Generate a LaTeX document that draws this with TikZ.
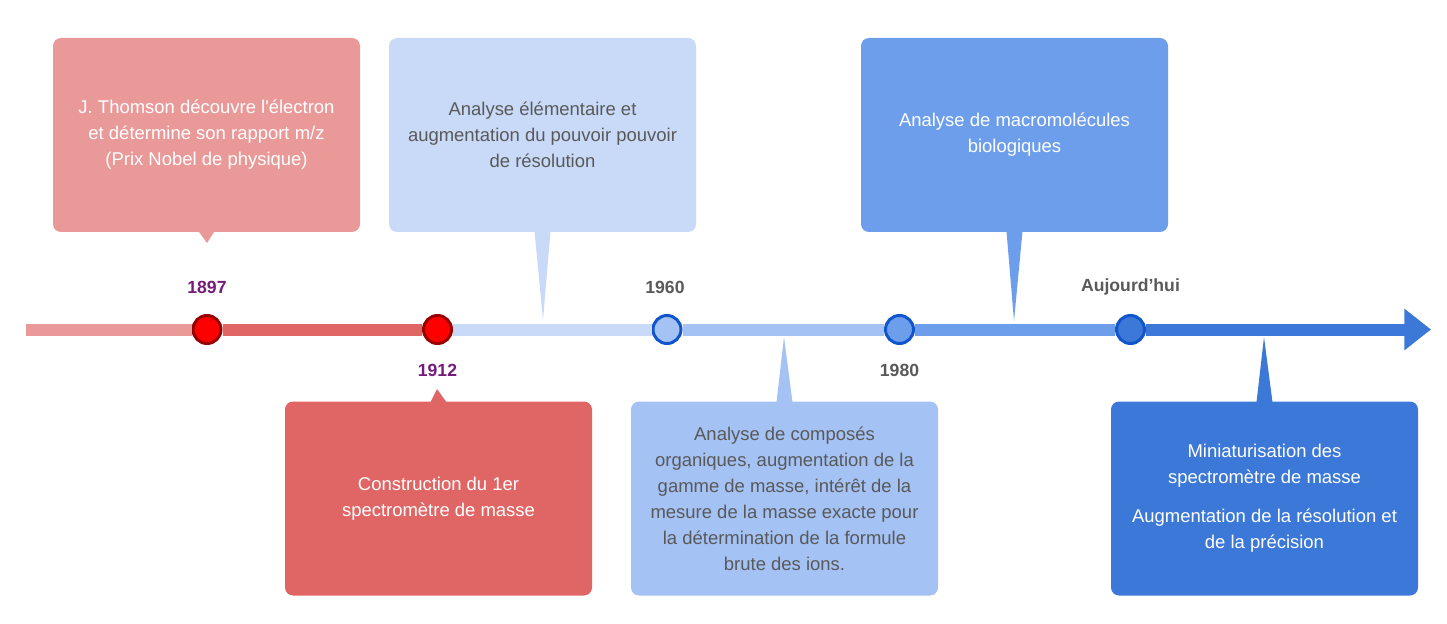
\documentclass[tikz,border=0pt]{standalone}
\usepackage{fontspec}
\setmainfont{Liberation Sans}[Ligatures=TeXOff]
\usetikzlibrary{arrows.meta,calc}
\definecolor{pinkA}{HTML}{EA9999}
\definecolor{redA}{HTML}{E06666}
\definecolor{blueA}{HTML}{C9DAF8}
\definecolor{blueB}{HTML}{A4C2F4}
\definecolor{blueC}{HTML}{6D9EEB}
\definecolor{blueD}{HTML}{3C78D8}
\definecolor{ringred}{HTML}{990000}
\definecolor{ringblue}{HTML}{1155CC}
\definecolor{txtgray}{HTML}{595959}
\definecolor{yearpurple}{HTML}{741B7C}
\tikzset{
    event/.style={rectangle, rounded corners=6pt, minimum width=230.25pt, minimum height=145.5pt, align=center, font=\fontsize{13.85}{19.5}\selectfont, inner sep=0pt},
    seg/.style={line width=9pt},
    dot/.style={circle, draw, line width=2.25pt, minimum size=21pt, inner sep=0pt},
    year/.style={font=\fontsize{13.2}{15}\selectfont\bfseries},
}

\begin{document}
\begin{tikzpicture}[x=0.75pt, y=-0.75pt]
    \useasboundingbox (0,0) rectangle (1447,624);

    % events above the axis
    \node[event, fill=pinkA, text=white] (b1) at (206.5,135) {J. Thomson découvre l'électron\\et détermine son rapport m/z\\(Prix Nobel de physique)};
    \node[event, fill=blueA, text=txtgray] (b3) at (542.5,135) {Analyse élémentaire et\\augmentation du pouvoir pouvoir\\de résolution};
    \node[event, fill=blueC, text=white] (b5) at (1014.5,135) {Analyse de macromolécules\\biologiques};
    % events below the axis
    \node[event, fill=redA, text=white] (b2) at (438.5,498.5) {Construction du 1er\\spectromètre de masse};
    \node[event, fill=blueB, text=txtgray] (b4) at (784.5,498.5) {Analyse de composés\\organiques, augmentation de la\\gamme de masse, intérêt de la\\mesure de la masse exacte pour\\la détermination de la formule\\brute des ions.};
    \node[event, fill=blueD, text=white] (b6) at (1264.5,498.5) {Miniaturisation des\\spectromètre de masse\\[9.75pt]Augmentation de la résolution et\\de la précision};

    % tails
    \coordinate (t1) at (207,243);
    \coordinate (t2) at (437,389);
    \coordinate (t3) at (543,320);
    \coordinate (t4) at (784,337);
    \coordinate (t5) at (1014,321);
    \coordinate (t6) at (1264,337);
    \fill[pinkA] ($(b1.south)+(-8,-1)$) -- (t1) -- ($(b1.south)+(8,-1)$) -- cycle;
    \fill[blueA] ($(b3.south)+(-8,-1)$) -- (t3) -- ($(b3.south)+(8,-1)$) -- cycle;
    \fill[blueC] ($(b5.south)+(-8,-1)$) -- (t5) -- ($(b5.south)+(8,-1)$) -- cycle;
    \fill[redA] ($(b2.north)+(-8,1)$) -- (t2) -- ($(b2.north)+(8,1)$) -- cycle;
    \fill[blueB] ($(b4.north)+(-8,1)$) -- (t4) -- ($(b4.north)+(8,1)$) -- cycle;
    \fill[blueD] ($(b6.north)+(-8,1)$) -- (t6) -- ($(b6.north)+(8,1)$) -- cycle;

    % axis
    \coordinate (start) at (26,329.5);
    \coordinate (end) at (1431,329.5);
    \node[dot, draw=ringred, fill=red] (d1) at (207,329.5) {};
    \node[dot, draw=ringred, fill=red] (d2) at (437.5,329.5) {};
    \node[dot, draw=ringblue, fill=blueB] (d3) at (667,329.5) {};
    \node[dot, draw=ringblue, fill=blueC] (d4) at (899.5,329.5) {};
    \node[dot, draw=ringblue, fill=blueD] (d5) at (1130.5,329.5) {};
    \draw[seg, pinkA] (start) -- (d1);
    \draw[seg, redA] (d1) -- (d2);
    \draw[seg, blueA] (d2) -- (d3);
    \draw[seg, blueB] (d3) -- (d4);
    \draw[seg, blueC] (d4) -- (d5);
    \draw[seg, blueD, -{Triangle[length=20pt, width=30pt]}] (d5) -- (end);

    % years
    \node[year, text=yearpurple] (y1) at (207,287) {1897};
    \node[year, text=yearpurple] (y2) at (437.5,370) {1912};
    \node[year, text=txtgray] (y3) at (665,287) {1960};
    \node[year, text=txtgray] (y4) at (899.5,370) {1980};
    \node[year, text=txtgray] (y5) at (1130.5,287) {Aujourd’hui};
\end{tikzpicture}
\end{document}
